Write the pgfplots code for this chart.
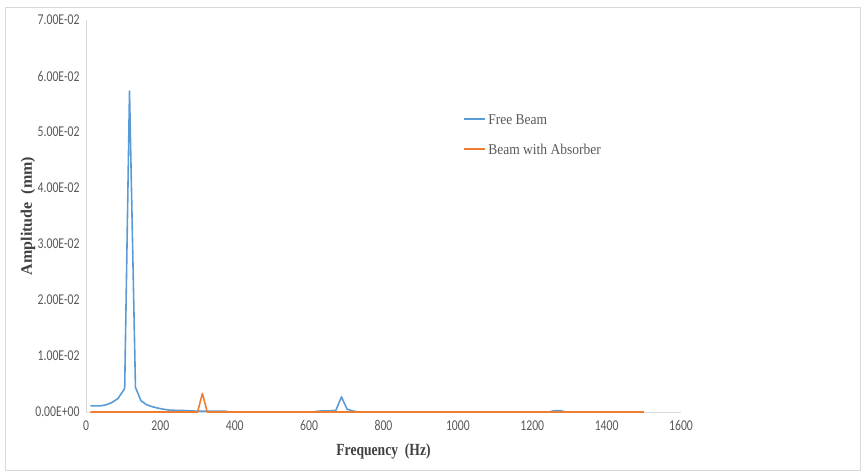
\documentclass[border=0pt]{standalone}
\usepackage{pgfplots}
\pgfplotsset{compat=1.18}
\usepackage{fontspec}
\setmainfont{Liberation Serif}
\newfontfamily\tickfont[FakeStretch=0.78]{Carlito}
\newfontfamily\labfont[FakeStretch=0.8]{Liberation Serif}
\newfontfamily\ylabfont{Liberation Serif}
\newfontfamily\legfont[FakeStretch=0.9]{Liberation Serif}
\definecolor{fbblue}{HTML}{5B9BD5}
\definecolor{baorange}{HTML}{ED7D31}
\definecolor{axgray}{HTML}{D9D9D9}
\definecolor{txtgray}{HTML}{595959}
\definecolor{labgray}{HTML}{404040}
\begin{document}
\begin{tikzpicture}
\path[use as bounding box] (0,0) rectangle (865bp,475bp);
\draw[axgray, line width=0.8bp] (5bp,5bp) rectangle (860bp,468bp);
\begin{axis}[
  at={(86bp,63bp)}, anchor=south west,
  scale only axis, width=595bp, height=392bp,
  xmin=0, xmax=1600, ymin=0, ymax=0.07,
  scaled y ticks=false, scaled x ticks=false,
  clip=false,
  axis lines=left,
  axis line style={-, draw=axgray, line width=0.8bp},
  major tick length=0pt,
  xtick={0,200,400,600,800,1000,1200,1400,1600},
  xticklabels={0,200,400,600,800,1000,1200,1400,1600},
  ytick={0,0.01,0.02,0.03,0.04,0.05,0.06,0.07},
  yticklabels={0.00E+00,1.00E-02,2.00E-02,3.00E-02,4.00E-02,5.00E-02,6.00E-02,7.00E-02},
  tick label style={font=\tickfont\fontsize{15bp}{15bp}\selectfont, text=txtgray},
  xticklabel style={yshift=-5bp},
  yticklabel style={xshift=-3bp},
  xlabel={Frequency\ \ (Hz)},
  ylabel={Amplitude\ \ (mm)},
  xlabel style={font=\labfont\bfseries\fontsize{17bp}{17bp}\selectfont, text=labgray,
    at={(axis description cs:0.5,-0.1)}, anchor=center},
  ylabel style={font=\ylabfont\bfseries\fontsize{16bp}{16bp}\selectfont, text=labgray,
    at={(axis description cs:-0.0975,0.5)}, anchor=center},
  legend style={at={(axis description cs:0.634,0.765)}, anchor=north west,
    draw=none, fill=none, inner sep=0pt,
    font=\legfont\fontsize{15bp}{15bp}\selectfont, text=txtgray,
    row sep=14bp, cells={anchor=west}},
  legend image code/.code={\draw[#1, line width=1.9bp] (0bp,0.6bp) -- (21bp,0.6bp);},
]
\addplot[fbblue, line width=1.6bp, line join=round] coordinates {
 (12,0.0011) (26,0.0011) (40,0.0011) (55,0.0013) (70,0.0017) (86,0.0024)
 (104,0.0042) (117,0.0573) (133,0.0044) (148,0.0020) (163,0.0013)
 (178,0.00095) (193,0.0007) (208,0.0005) (223,0.00035) (238,0.0003)
 (253,0.0003) (268,0.00025) (283,0.0002) (298,0.00015) (313,0.00015)
 (328,0.00015) (343,0.00015) (358,0.00015) (373,0.00015) (388,0)
 (450,0) (520,0) (610,0) (625,0.00015) (640,0.0002) (655,0.0002)
 (672,0.0003) (687,0.0027) (702,0.0005) (717,0.0002) (732,0)
 (800,0) (1000,0) (1245,0) (1260,0.00025) (1275,0.00025) (1290,0)
 (1400,0) (1500,0)
};
\addlegendentry{Free Beam}
\addplot[baorange, line width=1.6bp, line join=round] coordinates {
 (12,0) (100,0) (200,0) (300,0) (313,0.0033) (326,0) (400,0) (600,0)
 (800,0) (1000,0) (1200,0) (1400,0) (1500,0)
};
\addlegendentry{Beam with Absorber}
\end{axis}
\end{tikzpicture}
\end{document}
